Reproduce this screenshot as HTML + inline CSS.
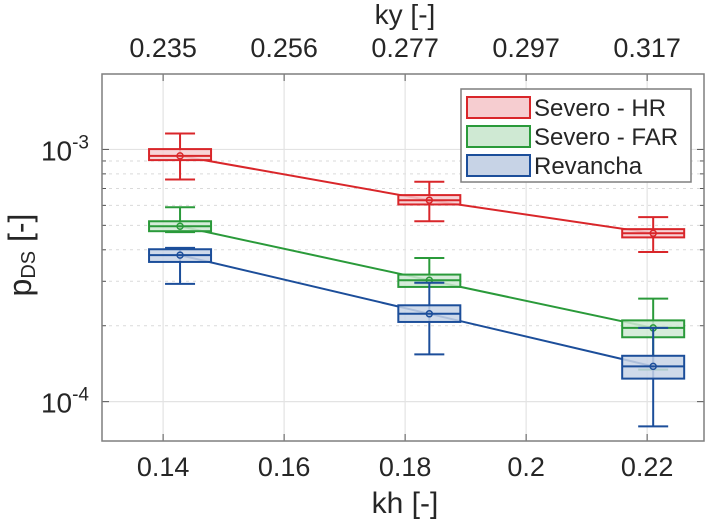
<!DOCTYPE html>
<html><head><meta charset="utf-8"><style>
body{margin:0;background:#fff;}
svg{display:block;font-family:"Liberation Sans",Arial,sans-serif;}
</style></head><body>
<svg id="chart" width="711" height="522"></svg>
<script>
const khTicks=[0.14,0.16,0.18,0.2,0.22];
const khTickLabels=["0.14","0.16","0.18","0.2","0.22"];
const kyTickLabels=["0.235","0.256","0.277","0.297","0.317"];
const groupsKh=[0.1428,0.184,0.221];
const seriesNames=["Severo - HR","Severo - FAR","Revancha"];
const seriesColors=["#d9262a","#2a9a3a","#1c4e9a"];
const seriesFills=["#f6cdd0","#cfe9d3","#c7d3e6"];
// per series per group: [whiskerLow, q1, median, q3, whiskerHigh], values in 1e-4
const hrStats=[[7.60,9.07,9.43,10.03,11.57],[5.19,6.05,6.29,6.59,7.44],[3.92,4.48,4.65,4.83,5.39]];
const farStats=[[4.70,4.74,4.96,5.19,5.90],[2.94,2.85,3.03,3.19,3.71],[1.34,1.80,1.96,2.10,2.56]];
const revStats=[[2.93,3.58,3.81,4.02,4.07],[1.54,2.07,2.23,2.41,2.96],[0.798,1.234,1.38,1.52,1.96]];
const hrMean=[9.43,6.29,4.65];
const farMean=[4.96,3.03,1.96];
const revMean=[3.81,2.23,1.38];
const allStats=[hrStats,farStats,revStats];
const allMeans=[hrMean,farMean,revMean];

const L=102,R=704,T=74,B=441;
const xMin=0.1299,xMax=0.2294;
const yMinLog=-4.156,yMaxLog=-2.701;
const X=v=>L+(v-xMin)/(xMax-xMin)*(R-L);
const Y=v=>B-(Math.log10(v*1e-4)-yMinLog)/(yMaxLog-yMinLog)*(B-T);
const NS="http://www.w3.org/2000/svg";
const svg=document.getElementById('chart');
function mk(tag,attrs,parent){const e=document.createElementNS(NS,tag);for(const k in attrs)e.setAttribute(k,attrs[k]);(parent||svg).appendChild(e);return e;}

const grid=mk('g',{});


[-4,-3].forEach(d=>{for(let m=1;m<10;m++){const lv=d+Math.log10(m);if(lv<yMinLog||lv>yMaxLog)continue;const y=B-(lv-yMinLog)/(yMaxLog-yMinLog)*(B-T);
 if(m===1){const g=mk('line',{x1:L,x2:R,y1:y,y2:y,stroke:'#e3e3e3','stroke-width':1.2},grid);}
 else{const g=mk('line',{x1:L,x2:R,y1:y,y2:y,stroke:'#dadada','stroke-width':1,'stroke-dasharray':'3,4'},grid);}
 mk('line',{x1:L,x2:L+(m===1?7:4),y1:y,y2:y,stroke:'#555'},grid);
 mk('line',{x1:R,x2:R-(m===1?7:4),y1:y,y2:y,stroke:'#555'},grid);
}});
khTicks.forEach((t,i)=>{const x=X(t);
 const g=mk('line',{x1:x,x2:x,y1:T,y2:B,stroke:'#e3e3e3','stroke-width':1.2},grid);
 
 mk('line',{x1:x,x2:x,y1:B,y2:B-7,stroke:'#555'},grid);
 mk('line',{x1:x,x2:x,y1:T,y2:T+7,stroke:'#555'},grid);
 const tl=mk('text',{x:x,y:476,'font-size':27,'text-anchor':'middle',fill:'#262626'});tl.textContent=khTickLabels[i];
 
 const tt=mk('text',{x:x,y:57,'font-size':27,'text-anchor':'middle',fill:'#262626'});tt.textContent=kyTickLabels[i];
 
});

allStats.forEach((stats,s)=>{
 const col=seriesColors[s];
 const g=mk('g',{});
 const pts=groupsKh.map((k,i)=>X(k)+','+Y(allMeans[s][i])).join(' ');
 const ln=mk('polyline',{points:pts,fill:'none',stroke:col,'stroke-width':2},g);
 
 stats.forEach((st,i)=>{
  const x=X(groupsKh[i]);const hw=31,cw=15;
  const bx=mk('g',{},g);
  mk('line',{x1:x,x2:x,y1:Y(st[0]),y2:Y(st[4]),stroke:col,'stroke-width':2},bx);
  mk('line',{x1:x-cw,x2:x+cw,y1:Y(st[0]),y2:Y(st[0]),stroke:col,'stroke-width':2},bx);
  mk('line',{x1:x-cw,x2:x+cw,y1:Y(st[4]),y2:Y(st[4]),stroke:col,'stroke-width':2},bx);
  const y1=Y(Math.max(st[1],st[3])),y3=Y(Math.min(st[1],st[3]));
  mk('rect',{x:x-hw,y:y1,width:2*hw,height:y3-y1,fill:seriesFills[s],'fill-opacity':0.85,stroke:col,'stroke-width':2},bx);
  mk('line',{x1:x-hw,x2:x+hw,y1:Y(st[2]),y2:Y(st[2]),stroke:col,'stroke-width':2},bx);
  mk('circle',{cx:x,cy:Y(allMeans[s][i]),r:3,fill:'none',stroke:col,'stroke-width':1.5},bx);
 });
});

const fr=mk('rect',{x:L,y:T,width:R-L,height:B-T,fill:'none',stroke:'#7f7f7f','stroke-width':1.5});


[[-3,'10','-3'],[-4,'10','-4']].forEach(([d,b,e])=>{
 const y=B-(d-yMinLog)/(yMaxLog-yMinLog)*(B-T);
 const t=mk('text',{x:89,y:y+11,'font-size':28,'text-anchor':'end',fill:'#262626'});
 
 t.innerHTML=b+'<tspan dy="-12" font-size="19">'+e+'</tspan>';
});

const xt=mk('text',{x:405,y:513,'font-size':30,'text-anchor':'middle',fill:'#262626'});xt.textContent='kh [-]';

const kt=mk('text',{x:405,y:24,'font-size':28,'text-anchor':'middle',fill:'#262626'});kt.textContent='ky [-]';

const yt=mk('text',{transform:'translate(31,255) rotate(-90)','font-size':32,'text-anchor':'middle',fill:'#262626'});
yt.innerHTML='p<tspan font-size="20" dy="4">DS</tspan><tspan dy="-4"> [-]</tspan>';


const lg=mk('g',{});
mk('rect',{x:461,y:89,width:230,height:93,fill:'#fff',stroke:'#7f7f7f','stroke-width':1.5},lg);
seriesNames.forEach((n,i)=>{
 const yc=107+i*29;
 const e=mk('g',{},lg);
 mk('rect',{x:467,y:yc-10,width:63,height:21,fill:seriesFills[i],stroke:seriesColors[i],'stroke-width':2},e);
 const t=mk('text',{x:534,y:yc+9,'font-size':24,fill:'#262626'},e);t.textContent=n;
});
</script>
</body></html>
